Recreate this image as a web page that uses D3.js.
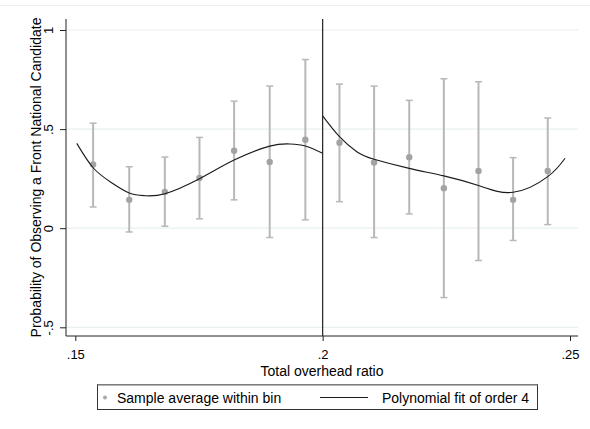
<!DOCTYPE html>
<html>
<head>
<meta charset="utf-8">
<script src="https://cdn.jsdelivr.net/npm/d3@7"></script>
<style>
  body { margin: 0; background: #fff; }
  svg { display: block; font-family: "Liberation Sans", Arial, sans-serif; }
</style>
</head>
<body>
<svg id="chart" width="590" height="429"></svg>
<script>
// bin averages with confidence intervals
const binX = [0.1536, 0.1609, 0.1681, 0.1751, 0.1821, 0.1893, 0.1965,
              0.2034, 0.2104, 0.2175, 0.2245, 0.2315, 0.2385, 0.2455];
const binMean = [0.322, 0.143, 0.183, 0.253, 0.391, 0.334, 0.446,
                 0.431, 0.332, 0.358, 0.202, 0.289, 0.143, 0.289];
const ciLow = [0.107, -0.019, 0.010, 0.047, 0.143, -0.047, 0.042,
               0.134, -0.047, 0.072, -0.350, -0.163, -0.062, 0.018];
const ciHigh = [0.530, 0.310, 0.359, 0.458, 0.641, 0.717, 0.851,
                0.727, 0.717, 0.645, 0.754, 0.739, 0.356, 0.556];

// polynomial fits
const fitLeftX = [0.1503, 0.1536, 0.1572, 0.1609, 0.1641, 0.1681, 0.1751, 0.1821, 0.1893, 0.1934, 0.1965, 0.2];
const fitLeftY = [0.428, 0.305, 0.232, 0.178, 0.164, 0.174, 0.250, 0.344, 0.414, 0.425, 0.415, 0.378];
const fitRightX = [0.2, 0.2034, 0.2069, 0.2104, 0.2175, 0.2245, 0.2315, 0.2385, 0.2455, 0.2490];
const fitRightY = [0.567, 0.462, 0.386, 0.348, 0.302, 0.264, 0.215, 0.181, 0.260, 0.353];

const xTicks = [0.15, 0.2, 0.25];
const xTickLabels = [".15", ".2", ".25"];
const yTicks = [-0.5, 0, 0.5, 1];
const yTickLabels = ["-.5", "0", ".5", "1"];
const cutoff = 0.2;

const svg = d3.select("#chart");

const x = d3.scaleLinear().domain([0.15, 0.25]).range([75.3, 570]);
const y = d3.scaleLinear().domain([-0.5, 1]).range([327.3, 30]);
const pLeft = 66, pRight = 578, pTop = 19, pBottom = 336;

// faint outer frame line at top
svg.append("line").attr("x1", 0).attr("x2", 590).attr("y1", 5.5).attr("y2", 5.5)
  .attr("stroke", "#eef0f0");

// gridlines
svg.append("g").selectAll("line").data(yTicks).join("line")
  .attr("x1", pLeft).attr("x2", pRight)
  .attr("y1", d => y(d)).attr("y2", d => y(d))
  .attr("stroke", "#e8f0f1").attr("stroke-width", 1.2);

// error bars
const errColor = "#b8b8b8";
const bars = svg.append("g");
binX.forEach((bx, i) => {
  const cx = x(bx);
  bars.append("line").attr("x1", cx).attr("x2", cx)
    .attr("y1", y(ciLow[i])).attr("y2", y(ciHigh[i]))
    .attr("stroke", errColor).attr("stroke-width", 2);
  [ciLow[i], ciHigh[i]].forEach(v => {
    bars.append("line").attr("x1", cx - 3.5).attr("x2", cx + 3.5)
      .attr("y1", y(v)).attr("y2", y(v))
      .attr("stroke", errColor).attr("stroke-width", 1.5);
  });
});

// points
svg.append("g").selectAll("circle").data(binX).join("circle")
  .attr("cx", d => x(d)).attr("cy", (d, i) => y(binMean[i]))
  .attr("r", 3.2).attr("fill", "#a3a3a3");

// fitted curves
const line = d3.line().x(d => x(d[0])).y(d => y(d[1])).curve(d3.curveNatural);
svg.append("path").datum(d3.zip(fitLeftX, fitLeftY)).attr("d", line)
  .attr("fill", "none").attr("stroke", "#1a1a1a").attr("stroke-width", 1.1);
svg.append("path").datum(d3.zip(fitRightX, fitRightY)).attr("d", line)
  .attr("fill", "none").attr("stroke", "#1a1a1a").attr("stroke-width", 1.1);

// cutoff line
svg.append("line").attr("x1", x(cutoff)).attr("x2", x(cutoff))
  .attr("y1", pTop).attr("y2", pBottom)
  .attr("stroke", "#222").attr("stroke-width", 1.2);

// axes
const yAxis = svg.append("g").attr("transform", `translate(${pLeft},0)`)
  .call(d3.axisLeft(y).tickValues(yTicks).tickSize(6).tickPadding(6)
    .tickFormat((d, i) => yTickLabels[i]));
yAxis.select(".domain").attr("d", `M0,${pTop}V${pBottom}`).attr("stroke", "#222");
yAxis.selectAll(".tick line").attr("stroke", "#222");
yAxis.selectAll(".tick text")
  .attr("font-size", 13).attr("fill", "#000")
  .attr("x", null).attr("dy", null)
  .attr("transform", "translate(-13,0) rotate(-90)")
  .attr("text-anchor", "middle");

const xAxis = svg.append("g").attr("transform", `translate(0,${pBottom})`)
  .call(d3.axisBottom(x).tickValues(xTicks).tickSize(5).tickPadding(9)
    .tickFormat((d, i) => xTickLabels[i]));
xAxis.select(".domain").attr("d", `M${pLeft},0H${pRight}`).attr("stroke", "#222");
xAxis.selectAll(".tick line").attr("stroke", "#222");
xAxis.selectAll(".tick text").attr("font-size", 13).attr("fill", "#000");

// axis titles
svg.append("text").attr("x", (pLeft + pRight) / 2).attr("y", 375.5)
  .attr("text-anchor", "middle").attr("font-size", 14)
  .text("Total overhead ratio");
svg.append("text")
  .attr("transform", `translate(41,${(pTop + pBottom) / 2}) rotate(-90)`)
  .attr("text-anchor", "middle").attr("font-size", 14)
  .text("Probability of Observing a Front National Candidate");

// legend
const lg = svg.append("g");
lg.append("rect").attr("x", 97.5).attr("y", 384.5).attr("width", 440).attr("height", 25)
  .attr("fill", "#fff").attr("stroke", "#333").attr("stroke-width", 1);
lg.append("line").attr("x1", 97.5).attr("x2", 537.5).attr("y1", 385).attr("y2", 385)
  .attr("stroke", "#999").attr("stroke-width", 1.5);
lg.append("circle").attr("cx", 105).attr("cy", 397.5).attr("r", 2).attr("fill", "#a8a8a8");
lg.append("text").attr("x", 117).attr("y", 403).attr("font-size", 14)
  .text("Sample average within bin");
lg.append("line").attr("x1", 320).attr("x2", 368).attr("y1", 397.5).attr("y2", 397.5)
  .attr("stroke", "#1a1a1a").attr("stroke-width", 1.1);
lg.append("text").attr("x", 382).attr("y", 403).attr("font-size", 14)
  .text("Polynomial fit of order 4");
</script>
</body>
</html>
